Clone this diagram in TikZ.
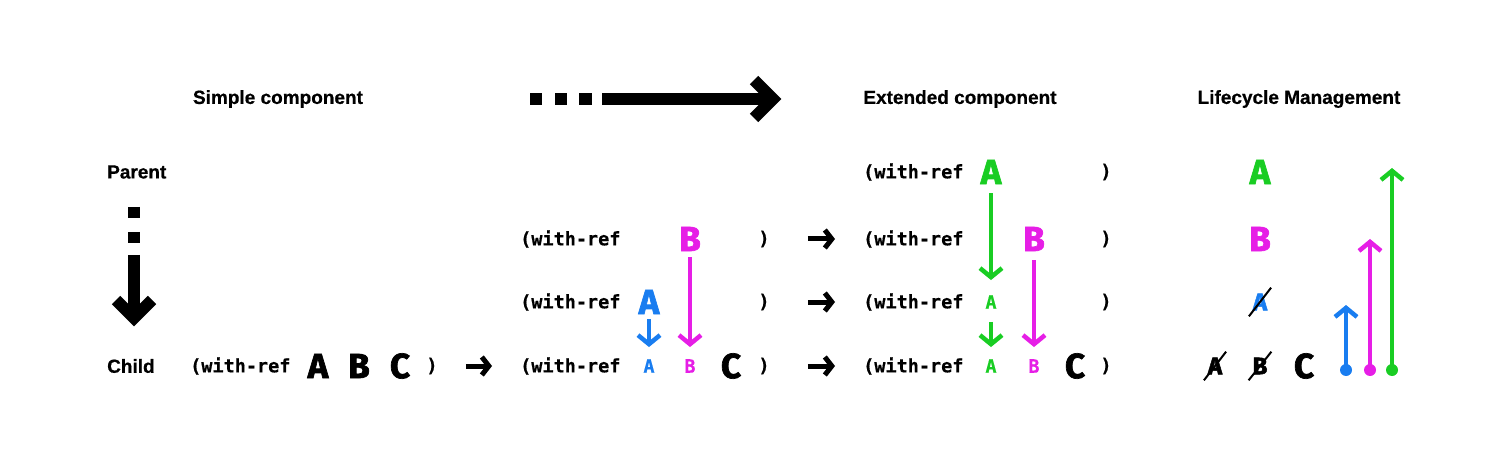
\documentclass[tikz,border=0pt]{standalone}
\usepackage{fontspec}
\setmainfont{Liberation Sans}[BoldFeatures={FakeBold=0.6}]
\newfontfamily\codefont{DejaVu Sans Mono}[BoldFeatures={FakeBold=0.5}]
\newfontfamily\letterfont{Fira Sans}[BoldFeatures={FakeBold=2}]
\usetikzlibrary{arrows.meta,shapes.misc}
\definecolor{lcblue}{RGB}{25,125,240}
\definecolor{lcpink}{RGB}{230,30,230}
\definecolor{lcgreen}{RGB}{25,205,35}

\begin{document}
\begin{tikzpicture}[x=1pt, y=-1pt]
            \tikzstyle{title} = [inner sep=0, font=\fontsize{19}{21}\selectfont\bfseries]
            \tikzstyle{code} = [inner sep=0, font=\fontsize{18.5}{20}\selectfont\codefont\bfseries]
            \tikzstyle{big} = [inner sep=0, font=\fontsize{35}{40}\selectfont\letterfont\bfseries]
            \tikzstyle{gone} = [strike out, draw=black, line width=2pt, inner xsep=3pt, inner ysep=5pt, font=\fontsize{24}{26}\selectfont\letterfont\bfseries]
            \tikzstyle{flow} = [line width=4.5pt, shorten <=7pt, shorten >=12pt, -{Straight Barb[length=9pt, width=22pt]}]
            \tikzstyle{hop} = [line width=5pt, shorten >=28pt, -{Straight Barb[length=7pt, width=18pt]}]
            \tikzstyle{heavy} = [line width=12pt, miter limit=4]
            \tikzstyle{lifedot} = [circle, inner sep=0, minimum size=12pt]
            \useasboundingbox (0, 0) rectangle (1500, 473);
            % headings
            \node[title] (simple) at (278, 99) {Simple component};
            \node[title] (extended) at (960, 99) {Extended component};
            \node[title] (lifecycle) at (1299, 99) {Lifecycle Management};
            \node[title, anchor=west] (parent) at (107, 172) {Parent};
            \node[title, anchor=west] (child) at (107, 366) {Child};
            % big dashed arrows
            \draw[heavy, dash pattern=on 12pt off 13pt on 12pt off 12pt on 13pt off 10pt on 400pt] (530, 99) -- (771, 99);
            \draw[heavy] (754, 80) -- (773, 99) -- (754, 118);
            \draw[heavy, dash pattern=on 11pt off 14pt on 11pt off 12pt on 200pt] (134, 207) -- (134, 316);
            \draw[heavy] (116, 300) -- (134, 318) -- (152, 300);
            % simple component
            \node[code, anchor=west] (s3) at (190, 366) {(with-ref};
            \node[big] (s3a) at (318, 366) {A};
            \node[big] (s3b) at (359, 366) {B};
            \node[big] (s3c) at (400, 366) {C};
            \node[code] (s3r) at (432, 366) {)};
            % middle step
            \node[code, anchor=west] (m1) at (520, 239) {(with-ref};
            \node[big, text=lcpink] (m1b) at (690, 239) {B};
            \node[code] (m1r) at (764, 239) {)};
            \node[code, anchor=west] (m2) at (520, 302) {(with-ref};
            \node[big, text=lcblue] (m2a) at (649, 302) {A};
            \node[code] (m2r) at (764, 302) {)};
            \node[code, anchor=west] (m3) at (520, 366) {(with-ref};
            \node[code, text=lcblue] (m3a) at (649, 366) {A};
            \node[code, text=lcpink] (m3b) at (690, 366) {B};
            \node[big] (m3c) at (731, 366) {C};
            \node[code] (m3r) at (764, 366) {)};
            \draw[flow, lcblue, shorten <=5pt] (m2a) -- (m3a);
            \draw[flow, lcpink, shorten <=6pt] (m1b) -- (m3b);
            % extended component
            \node[code, anchor=west] (e0) at (863, 172) {(with-ref};
            \node[big, text=lcgreen] (e0a) at (991, 172) {A};
            \node[code] (e0r) at (1106, 172) {)};
            \node[code, anchor=west] (e1) at (863, 239) {(with-ref};
            \node[big, text=lcpink] (e1b) at (1034, 239) {B};
            \node[code] (e1r) at (1106, 239) {)};
            \node[code, anchor=west] (e2) at (863, 302) {(with-ref};
            \node[code, text=lcgreen] (e2a) at (991, 302) {A};
            \node[code] (e2r) at (1106, 302) {)};
            \node[code, anchor=west] (e3) at (863, 366) {(with-ref};
            \node[code, text=lcgreen] (e3a) at (991, 366) {A};
            \node[code, text=lcpink] (e3b) at (1034, 366) {B};
            \node[big] (e3c) at (1075, 366) {C};
            \node[code] (e3r) at (1106, 366) {)};
            \draw[flow, lcgreen, shorten <=9pt, shorten >=15pt] (e0a) -- (e2a);
            \draw[flow, lcgreen, shorten <=13pt] (e2a) -- (e3a);
            \draw[flow, lcpink, shorten <=9pt] (e1b) -- (e3b);
            % steps between columns
            \draw[hop, shorten <=28pt] (s3r) -- (m3);
            \draw[hop, shorten <=38pt] (m1r) -- (e1);
            \draw[hop, shorten <=38pt] (m2r) -- (e2);
            \draw[hop, shorten <=38pt] (m3r) -- (e3);
            % lifecycle management
            \node[big, text=lcgreen] (la) at (1260, 172) {A};
            \node[big, text=lcpink] (lb) at (1260, 239) {B};
            \node[gone, text=lcblue] (lx) at (1260, 302) {A};
            \node[gone] (l3a) at (1215, 366) {A};
            \node[gone] (l3b) at (1260, 366) {B};
            \node[big] (l3c) at (1304, 366) {C};
            \node[lifedot, fill=lcblue] (dotb) at (1346, 370) {};
            \node[lifedot, fill=lcpink] (dotp) at (1370, 370) {};
            \node[lifedot, fill=lcgreen] (dotg) at (1392, 370) {};
            \draw[flow, lcblue, shorten <=0pt, shorten >=3pt] (dotb.center) -- (dotb |- lx);
            \draw[flow, lcpink, shorten <=0pt, shorten >=0pt] (dotp.center) -- (dotp |- lb);
            \draw[flow, lcgreen, shorten <=0pt, shorten >=-4pt] (dotg.center) -- (dotg |- la);
        \end{tikzpicture}
\end{document}
